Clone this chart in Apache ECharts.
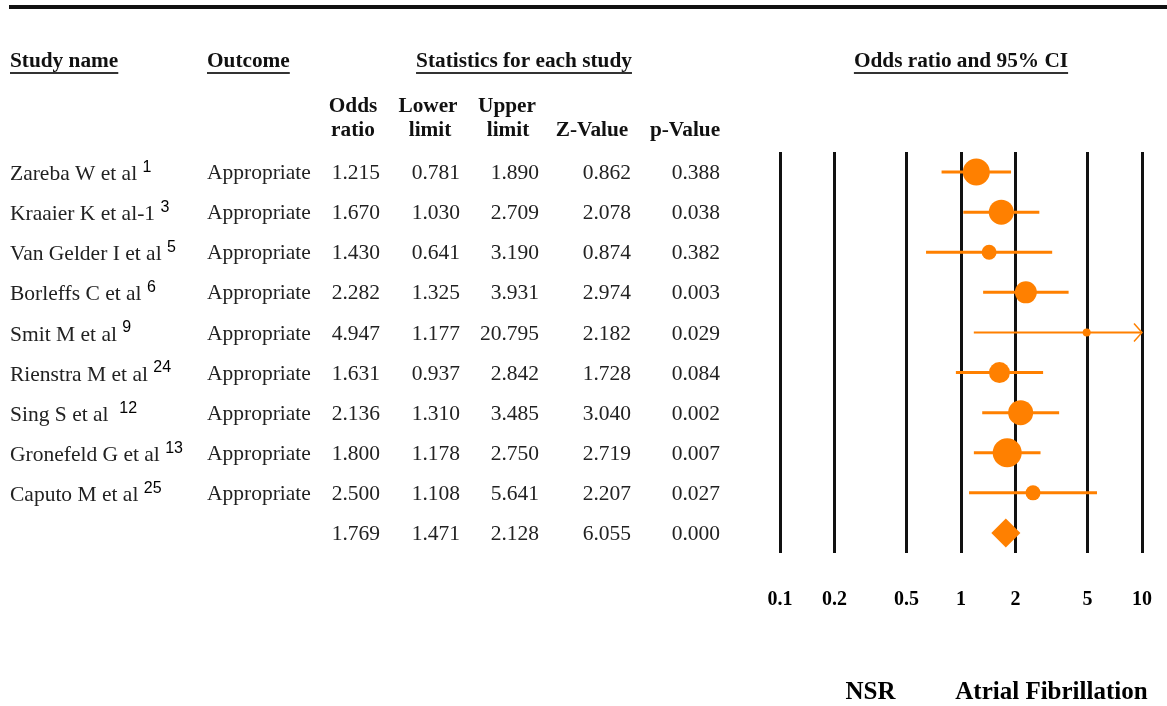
<!DOCTYPE html>
<html>
<head>
<meta charset="utf-8">
<script src="https://cdn.jsdelivr.net/npm/echarts@6/dist/echarts.min.js"></script>
<style>
  html, body { margin: 0; padding: 0; background: #fff; }
  #chart { width: 1167px; height: 706px; }
</style>
</head>
<body>
<div id="chart"></div>
<script>
// table data
var studies = ['Zareba W et al', 'Kraaier K et al-1', 'Van Gelder I et al', 'Borleffs C et al', 'Smit M et al',
               'Rienstra M et al', 'Sing S et al ', 'Gronefeld G et al', 'Caputo M et al', ''];
var refs = ['1', '3', '5', '6', '9', '24', '12', '13', '25', ''];
var outcomes = ['Appropriate', 'Appropriate', 'Appropriate', 'Appropriate', 'Appropriate',
                'Appropriate', 'Appropriate', 'Appropriate', 'Appropriate', ''];
var oddsRatio = [1.215, 1.670, 1.430, 2.282, 4.947, 1.631, 2.136, 1.800, 2.500, 1.769];
var lowerLimit = [0.781, 1.030, 0.641, 1.325, 1.177, 0.937, 1.310, 1.178, 1.108, 1.471];
var upperLimit = [1.890, 2.709, 3.190, 3.931, 20.795, 2.842, 3.485, 2.750, 5.641, 2.128];
var zValue = [0.862, 2.078, 0.874, 2.974, 2.182, 1.728, 3.040, 2.719, 2.207, 6.055];
var pValue = [0.388, 0.038, 0.382, 0.003, 0.029, 0.084, 0.002, 0.007, 0.027, 0.000];
// study weight shown as marker diameter (px)
var markerSize = [27, 25, 15, 22, 8, 21, 25, 29, 15];
var tickValues = [0.1, 0.2, 0.5, 1, 2, 5, 10];

var ORANGE = '#ff8000';
var SERIF = '"Liberation Serif", "Times New Roman", serif';
var rows = studies.map(function (s, i) { return i; });

var myChart = echarts.init(document.getElementById('chart'));

// forest rows: ci line per study
var ciData = [];
for (var i = 0; i < 9; i++) ciData.push([lowerLimit[i], upperLimit[i], i]);

var option = {
    animation: false,
    grid: [
        {left: 780, width: 362, top: 152, height: 401},
        {left: 780, width: 362, top: 600, height: 93}
    ],
    xAxis: [
        {type: 'log', logBase: 10, min: 0.1, max: 10, gridIndex: 0,
            axisLine: {show: false}, axisTick: {show: false}, axisLabel: {show: false}, splitLine: {show: false}},
        {type: 'log', logBase: 10, min: 0.1, max: 10, gridIndex: 1, show: false}
    ],
    yAxis: [
        {type: 'category', data: rows, inverse: true, gridIndex: 0, show: false},
        {type: 'value', min: 0, max: 1, gridIndex: 1, show: false}
    ],
    series: [
        {
            // vertical reference lines
            type: 'line', xAxisIndex: 0, yAxisIndex: 0, data: [], z: 1,
            markLine: {
                silent: true, symbol: 'none', label: {show: false},
                lineStyle: {color: '#111', width: 3, type: 'solid'},
                data: tickValues.map(function (v) { return {xAxis: v}; })
            }
        },
        {
            type: 'custom', xAxisIndex: 0, yAxisIndex: 0, clip: false, z: 5,
            data: ciData,
            renderItem: function (params, api) {
                var hi = api.value(1);
                var top = Math.min(hi, 10);
                var p0 = api.coord([api.value(0), api.value(2)]);
                var p1 = api.coord([top, api.value(2)]);
                var w = hi > 10 ? 2 : 3;
                var kids = [{
                    type: 'line',
                    shape: {x1: p0[0], y1: p0[1], x2: p1[0], y2: p1[1]},
                    style: {stroke: ORANGE, lineWidth: w}
                }];
                if (hi > 10) {
                    kids.push({
                        type: 'polyline',
                        shape: {points: [[p1[0] - 8, p1[1] - 9], [p1[0], p1[1]], [p1[0] - 8, p1[1] + 9]]},
                        style: {stroke: ORANGE, lineWidth: 1.5, fill: null}
                    });
                }
                return {type: 'group', children: kids};
            }
        },
        {
            type: 'scatter', xAxisIndex: 0, yAxisIndex: 0, z: 6,
            data: markerSize.map(function (s, i) { return {value: [oddsRatio[i], i], symbolSize: s}; }),
            itemStyle: {color: ORANGE, opacity: 1}
        },
        {
            // summary diamond
            type: 'custom', xAxisIndex: 0, yAxisIndex: 0, z: 6,
            data: [[lowerLimit[9], oddsRatio[9], upperLimit[9], 9]],
            renderItem: function (params, api) {
                var l = api.coord([api.value(0), api.value(3)]);
                var m = api.coord([api.value(1), api.value(3)]);
                var r = api.coord([api.value(2), api.value(3)]);
                return {
                    type: 'polygon',
                    shape: {points: [[l[0], l[1]], [m[0], m[1] - 14.5], [r[0], r[1]], [m[0], m[1] + 14.5]]},
                    style: {fill: ORANGE}
                };
            }
        },
        {
            // tick labels
            type: 'scatter', xAxisIndex: 1, yAxisIndex: 1, symbolSize: 0,
            itemStyle: {color: '#fff', opacity: 1},
            data: tickValues.map(function (v) { return [v, 1]; }),
            label: {
                show: true, position: 'inside', color: '#000', textBorderWidth: 0,
                fontFamily: SERIF, fontWeight: 'bold', fontSize: 20,
                formatter: function (p) { return String(p.value[0]); }
            }
        },
        {
            type: 'scatter', xAxisIndex: 1, yAxisIndex: 1, symbolSize: 0,
            itemStyle: {color: '#fff', opacity: 1},
            data: [{value: [0.316, 0], name: 'NSR'}, {value: [3.16, 0], name: 'Atrial Fibrillation'}],
            label: {
                show: true, position: 'inside', color: '#000', textBorderWidth: 0,
                fontFamily: SERIF, fontWeight: 'bold', fontSize: 25,
                formatter: '{b}'
            }
        }
    ]
};
myChart.setOption(option);

// table text, drawn as graphic text using row positions from the y axis
var ctx = document.createElement('canvas').getContext('2d');
function textW(txt, font) { ctx.font = font; return ctx.measureText(txt).width; }

var g = [];
g.push({type: 'rect', shape: {x: 9, y: 5, width: 1158, height: 4}, style: {fill: '#111'}});

var headFont = 'bold 21.3px ' + SERIF;
function header(txt, x, y, align) {
    g.push({type: 'text', x: x, y: y, style: {text: txt, font: headFont, fill: '#111', align: align || 'left', verticalAlign: 'middle'}});
}
function underlined(txt, x, y, align) {
    header(txt, x, y, align);
    var w = textW(txt, headFont);
    var x0 = align === 'center' ? x - w / 2 : x;
    g.push({type: 'rect', shape: {x: x0, y: y + 11, width: w, height: 2}, style: {fill: '#333'}});
}
underlined('Study name', 10, 61);
underlined('Outcome', 207, 61);
underlined('Statistics for each study', 524, 61, 'center');
underlined('Odds ratio and 95% CI', 961, 61, 'center');
header('Odds', 353, 106, 'center'); header('ratio', 353, 130, 'center');
header('Lower', 428, 106, 'center'); header('limit', 430, 130, 'center');
header('Upper', 507, 106, 'center'); header('limit', 508, 130, 'center');
header('Z-Value', 592, 130, 'center');
header('p-Value', 685, 130, 'center');

var bodyFont = '21.5px ' + SERIF;
var cols = [[oddsRatio, 380], [lowerLimit, 460], [upperLimit, 539], [zValue, 631], [pValue, 720]];
rows.forEach(function (i) {
    var y = myChart.convertToPixel({yAxisIndex: 0}, i) + 1.5;
    g.push({type: 'text', x: 10, y: y - 1, style: {
        text: '{n|' + studies[i] + ' }{s|' + refs[i] + '}',
        rich: {
            n: {fontFamily: SERIF, fontSize: 21.5, lineHeight: 26, fill: '#222', verticalAlign: 'bottom'},
            s: {fontFamily: '"Liberation Sans", Arial, sans-serif', fontSize: 16, lineHeight: 16, fill: '#000', verticalAlign: 'top'}
        },
        verticalAlign: 'middle'
    }});
    g.push({type: 'text', x: 207, y: y, style: {text: outcomes[i], font: bodyFont, fill: '#222', verticalAlign: 'middle'}});
    cols.forEach(function (c) {
        g.push({type: 'text', x: c[1], y: y, style: {text: c[0][i].toFixed(3), font: bodyFont, fill: '#222', align: 'right', verticalAlign: 'middle'}});
    });
});
myChart.setOption({graphic: {elements: g}});
</script>
</body>
</html>
